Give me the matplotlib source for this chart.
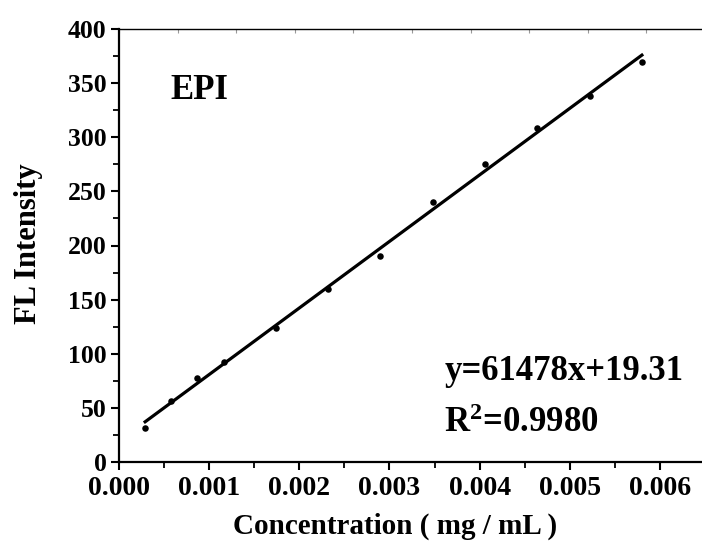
import numpy as np
import matplotlib
matplotlib.use("Agg")
import matplotlib.pyplot as plt
from matplotlib.ticker import MultipleLocator

# Data
conc = [0.00029, 0.00058, 0.00087, 0.00116, 0.00174, 0.00232,
        0.00290, 0.00348, 0.00406, 0.00464, 0.00522, 0.00580]
intensity = [31.1, 56.4, 77.9, 92.1, 123.8, 159.8,
             190.6, 240.2, 275.3, 308.3, 338.4, 369.8]
slope = 61478
intercept = 19.31
r2_text = "0.9980"
x_ticks = [0.000, 0.001, 0.002, 0.003, 0.004, 0.005, 0.006]
y_ticks = [0, 50, 100, 150, 200, 250, 300, 350, 400]

plt.rcParams['font.family'] = ['Liberation Serif', 'DejaVu Serif']
plt.rcParams['font.weight'] = 'bold'
plt.rcParams['mathtext.fontset'] = 'custom'
plt.rcParams['mathtext.rm'] = 'Liberation Serif:bold'
plt.rcParams['mathtext.bf'] = 'Liberation Serif:bold'
plt.rcParams['mathtext.it'] = 'Liberation Serif:bold:italic'

W, H = 702, 544
fig = plt.figure(figsize=(W / 100, H / 100), dpi=100)
L, R, T, B = 119, 705, 29, 462
ax = fig.add_axes([L / W, (H - B) / H, (R - L) / W, (B - T) / H])

x = np.array(conc)
ax.scatter(x, intensity, s=22, color='black', zorder=3, linewidths=0)
xf = np.array([x.min(), x.max()])
ax.plot(xf, slope * xf + intercept, color='black', lw=2.3, zorder=2)

ax.set_xlim(0, 0.0065)
ax.set_ylim(0, 400)
ax.set_xticks(x_ticks)
ax.set_xticklabels([f"{v:.3f}" for v in x_ticks])
ax.set_yticks(y_ticks)
ax.set_yticklabels([str(v) for v in y_ticks])
ax.xaxis.set_minor_locator(MultipleLocator(0.0005))
ax.yaxis.set_minor_locator(MultipleLocator(25))

for s in ax.spines.values():
    s.set_linewidth(1.6)
ax.spines['right'].set_visible(False)
ax.spines['top'].set_linewidth(1.0)

ax.tick_params(axis='both', which='major', direction='out', length=6, width=1.5,
               top=False, right=False)
ax.tick_params(axis='both', which='minor', direction='out', length=4, width=1.3,
               top=False, right=False)
ax.tick_params(axis='x', which='major', labelsize=20, pad=4)
ax.tick_params(axis='y', which='major', labelsize=18.5, pad=3)
for lab in ax.get_xticklabels() + ax.get_yticklabels():
    lab.set_fontweight('bold')

# faint ticks on top spine
sec = ax.secondary_xaxis('top')
sec.set_xticks(np.arange(0, 0.0066, 0.00065))
sec.set_xticklabels([])
sec.tick_params(direction='in', length=3, width=0.8, colors='#999999')
sec.spines['top'].set_visible(False)

fig.text(29 / W, 1 - 244 / H, "FL Intensity", rotation=90, ha='center', va='center',
         fontsize=22, fontweight='bold')
fig.text(395 / W, 1 - 526 / H, "Concentration ( mg / mL )", ha='center', va='center',
         fontsize=21, fontweight='bold')

fig.text(170 / W, 1 - 99 / H, "EPI", fontsize=25, fontweight='bold',
         ha='left', va='baseline')
ax.text(0.555, 0.19, f"y={slope}x+{intercept}", transform=ax.transAxes,
        fontsize=25, fontweight='bold', ha='left', va='baseline')
ax.text(0.555, 0.07, r"R$^{\mathbf{2}}$=" + r2_text, transform=ax.transAxes,
        fontsize=25, fontweight='bold', ha='left', va='baseline')

fig.savefig("out.png", dpi=100)
